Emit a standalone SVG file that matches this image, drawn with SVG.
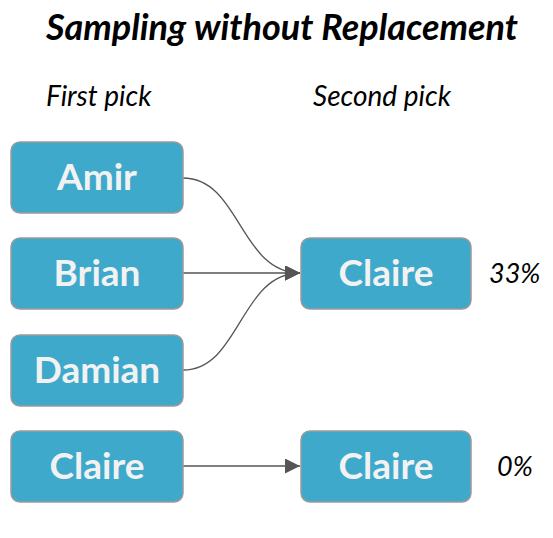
<svg xmlns="http://www.w3.org/2000/svg" width="553" height="538" viewBox="0 0 553 538">
<style>
.box{fill:#3fa9cb;stroke:#9a9a9a;stroke-width:1.5}
.lbl{font-family:Lato,"Open Sans",sans-serif;font-weight:bold;font-size:37px;fill:#f2f2f2;text-anchor:middle}
.hdr{font-family:Lato,"Open Sans",sans-serif;font-style:italic;font-size:28px;fill:#000}
.pct{font-family:Lato,"Open Sans",sans-serif;font-style:italic;font-size:27px;fill:#000}
.edge{fill:none;stroke:#555;stroke-width:1.3}
</style>
<defs>
<marker id="arr" viewBox="0 0 10 10" refX="10" refY="5" markerWidth="15" markerHeight="15" markerUnits="userSpaceOnUse" orient="auto">
<path d="M0,0 L10,5 L0,10 z" fill="#555"/>
</marker>
</defs>
<text x="282" y="40" text-anchor="middle" style="font-family:Lato,'Open Sans',sans-serif;font-weight:bold;font-style:italic;font-size:36px">Sampling without Replacement</text>
<text class="hdr" x="46" y="106">First pick</text>
<text class="hdr" x="313" y="106">Second pick</text>
<g id="connectors">
<path class="edge" d="M183,178 C240,178 240,273 300,273" marker-end="url(#arr)"/>
<path class="edge" d="M183,273 L300,273" marker-end="url(#arr)"/>
<path class="edge" d="M183,370 C240,370 240,273 300,273" marker-end="url(#arr)"/>
<path class="edge" d="M183,466 L300,466" marker-end="url(#arr)"/>
</g>
<g id="amir"><rect class="box" x="11" y="142" width="172" height="71" rx="9"/><text class="lbl" x="97" y="190">Amir</text></g>
<g id="brian"><rect class="box" x="11" y="238" width="172" height="71" rx="9"/><text class="lbl" x="97" y="286">Brian</text></g>
<g id="damian"><rect class="box" x="11" y="335" width="172" height="71" rx="9"/><text class="lbl" x="97" y="383">Damian</text></g>
<g id="claire1"><rect class="box" x="11" y="431" width="172" height="71" rx="9"/><text class="lbl" x="97" y="479">Claire</text></g>
<g id="claire2"><rect class="box" x="301" y="238" width="170" height="71" rx="9"/><text class="lbl" x="386" y="286">Claire</text></g>
<g id="claire3"><rect class="box" x="301" y="431" width="170" height="71" rx="9"/><text class="lbl" x="386" y="479">Claire</text></g>
<text class="pct" x="489" y="283">33%</text>
<text class="pct" x="497" y="476">0%</text>
</svg>
